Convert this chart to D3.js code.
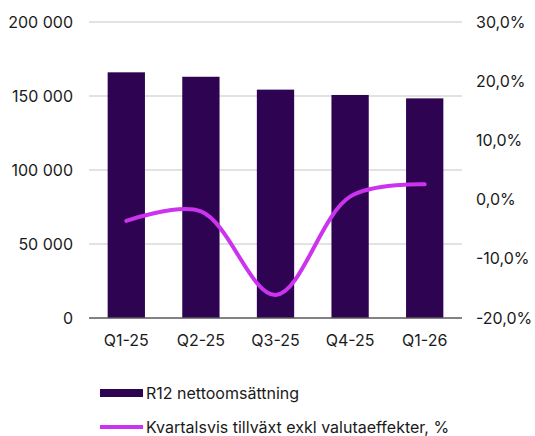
<!DOCTYPE html>
<html>
<head>
<meta charset="utf-8">
<script src="https://cdn.jsdelivr.net/npm/d3@7"></script>
<style>
body{margin:0;background:#fff;}
text{font-family:Inter,"Open Sans",sans-serif;fill:#1a1a1a;}
</style>
</head>
<body>
<script>
var quarters=["Q1-25","Q2-25","Q3-25","Q4-25","Q1-26"];
var sales=[166000,163000,154300,150700,148400];
var growth=[-3.6,-2.0,-16.1,0.5,2.6];
var leftTicks=[0,50000,100000,150000,200000];
var rightTicks=[-20,-10,0,10,20,30];
var legendNames=["R12 nettoomsättning","Kvartalsvis tillväxt exkl valutaeffekter, %"];

var width=535,height=436;
var m={left:89,right:462,top:22,bottom:318};

var svg=d3.select("body").append("svg")
  .attr("width",width)
  .attr("height",height);

var x=d3.scaleBand().domain(quarters).range([m.left,m.right]).paddingInner(0.5).paddingOuter(0.25);
var yL=d3.scaleLinear().domain([0,200000]).range([m.bottom,m.top]);
var yR=d3.scaleLinear().domain([-20,30]).range([m.bottom,m.top]);

// gridlines
svg.append("g")
  .selectAll("line")
  .data(leftTicks.filter(function(d){return d>0;}))
  .enter()
  .append("line")
  .attr("x1",m.left)
  .attr("x2",m.right)
  .attr("y1",function(d){return yL(d);})
  .attr("y2",function(d){return yL(d);})
  .attr("stroke","#d9d9d9")
  .attr("stroke-width",1.5);

// left labels
var fmt=function(d){return d3.format(",")(d).replace(/,/g," ");};
svg.append("g")
  .selectAll("text")
  .data(leftTicks)
  .enter()
  .append("text")
  .attr("x",73)
  .attr("y",function(d){return yL(d)+5.5;})
  .attr("text-anchor","end")
  .style("font-size","16px")
  .text(fmt);

// right labels
svg.append("g")
  .selectAll("text")
  .data(rightTicks)
  .enter()
  .append("text")
  .attr("x",476)
  .attr("y",function(d){return yR(d)+5.5;})
  .style("font-size","16px")
  .text(function(d){return d3.format(".1f")(d).replace(".",",").replace("−","-")+"%";});

// bars
svg.append("g")
  .selectAll("rect")
  .data(sales)
  .enter()
  .append("rect")
  .attr("x",function(d,i){return x(quarters[i]);})
  .attr("y",function(d){return yL(d);})
  .attr("width",x.bandwidth())
  .attr("height",function(d){return yL(0)-yL(d);})
  .attr("fill","#2e0452");

// base axis
svg.append("line")
  .attr("x1",m.left)
  .attr("x2",m.right)
  .attr("y1",yL(0))
  .attr("y2",yL(0))
  .attr("stroke","#595959")
  .attr("stroke-width",1.5);

// x labels
svg.append("g")
  .selectAll("text")
  .data(quarters)
  .enter()
  .append("text")
  .attr("x",function(d){return x(d)+x.bandwidth()/2;})
  .attr("y",346)
  .attr("text-anchor","middle")
  .style("font-size","16px")
  .text(function(d){return d;});

// growth line
var line=d3.line()
  .x(function(d,i){return x(quarters[i])+x.bandwidth()/2;})
  .y(function(d){return yR(d);})
  .curve(d3.curveCatmullRom.alpha(0.5));
svg.append("path")
  .datum(growth)
  .attr("d",line)
  .attr("fill","none")
  .attr("stroke","#cc33ee")
  .attr("stroke-width",4)
  .attr("stroke-linecap","round");

// legend
var lg=svg.append("g");
lg.append("rect")
  .attr("x",100).attr("y",389)
  .attr("width",43).attr("height",8)
  .attr("fill","#2e0452");
lg.append("line")
  .attr("x1",100).attr("x2",143)
  .attr("y1",427).attr("y2",427)
  .attr("stroke","#cc33ee")
  .attr("stroke-width",4);
lg.selectAll("text")
  .data(legendNames)
  .enter()
  .append("text")
  .attr("x",146)
  .attr("y",function(d,i){return 399+i*34;})
  .style("font-size","16px")
  .text(function(d){return d;});
</script>
</body>
</html>
